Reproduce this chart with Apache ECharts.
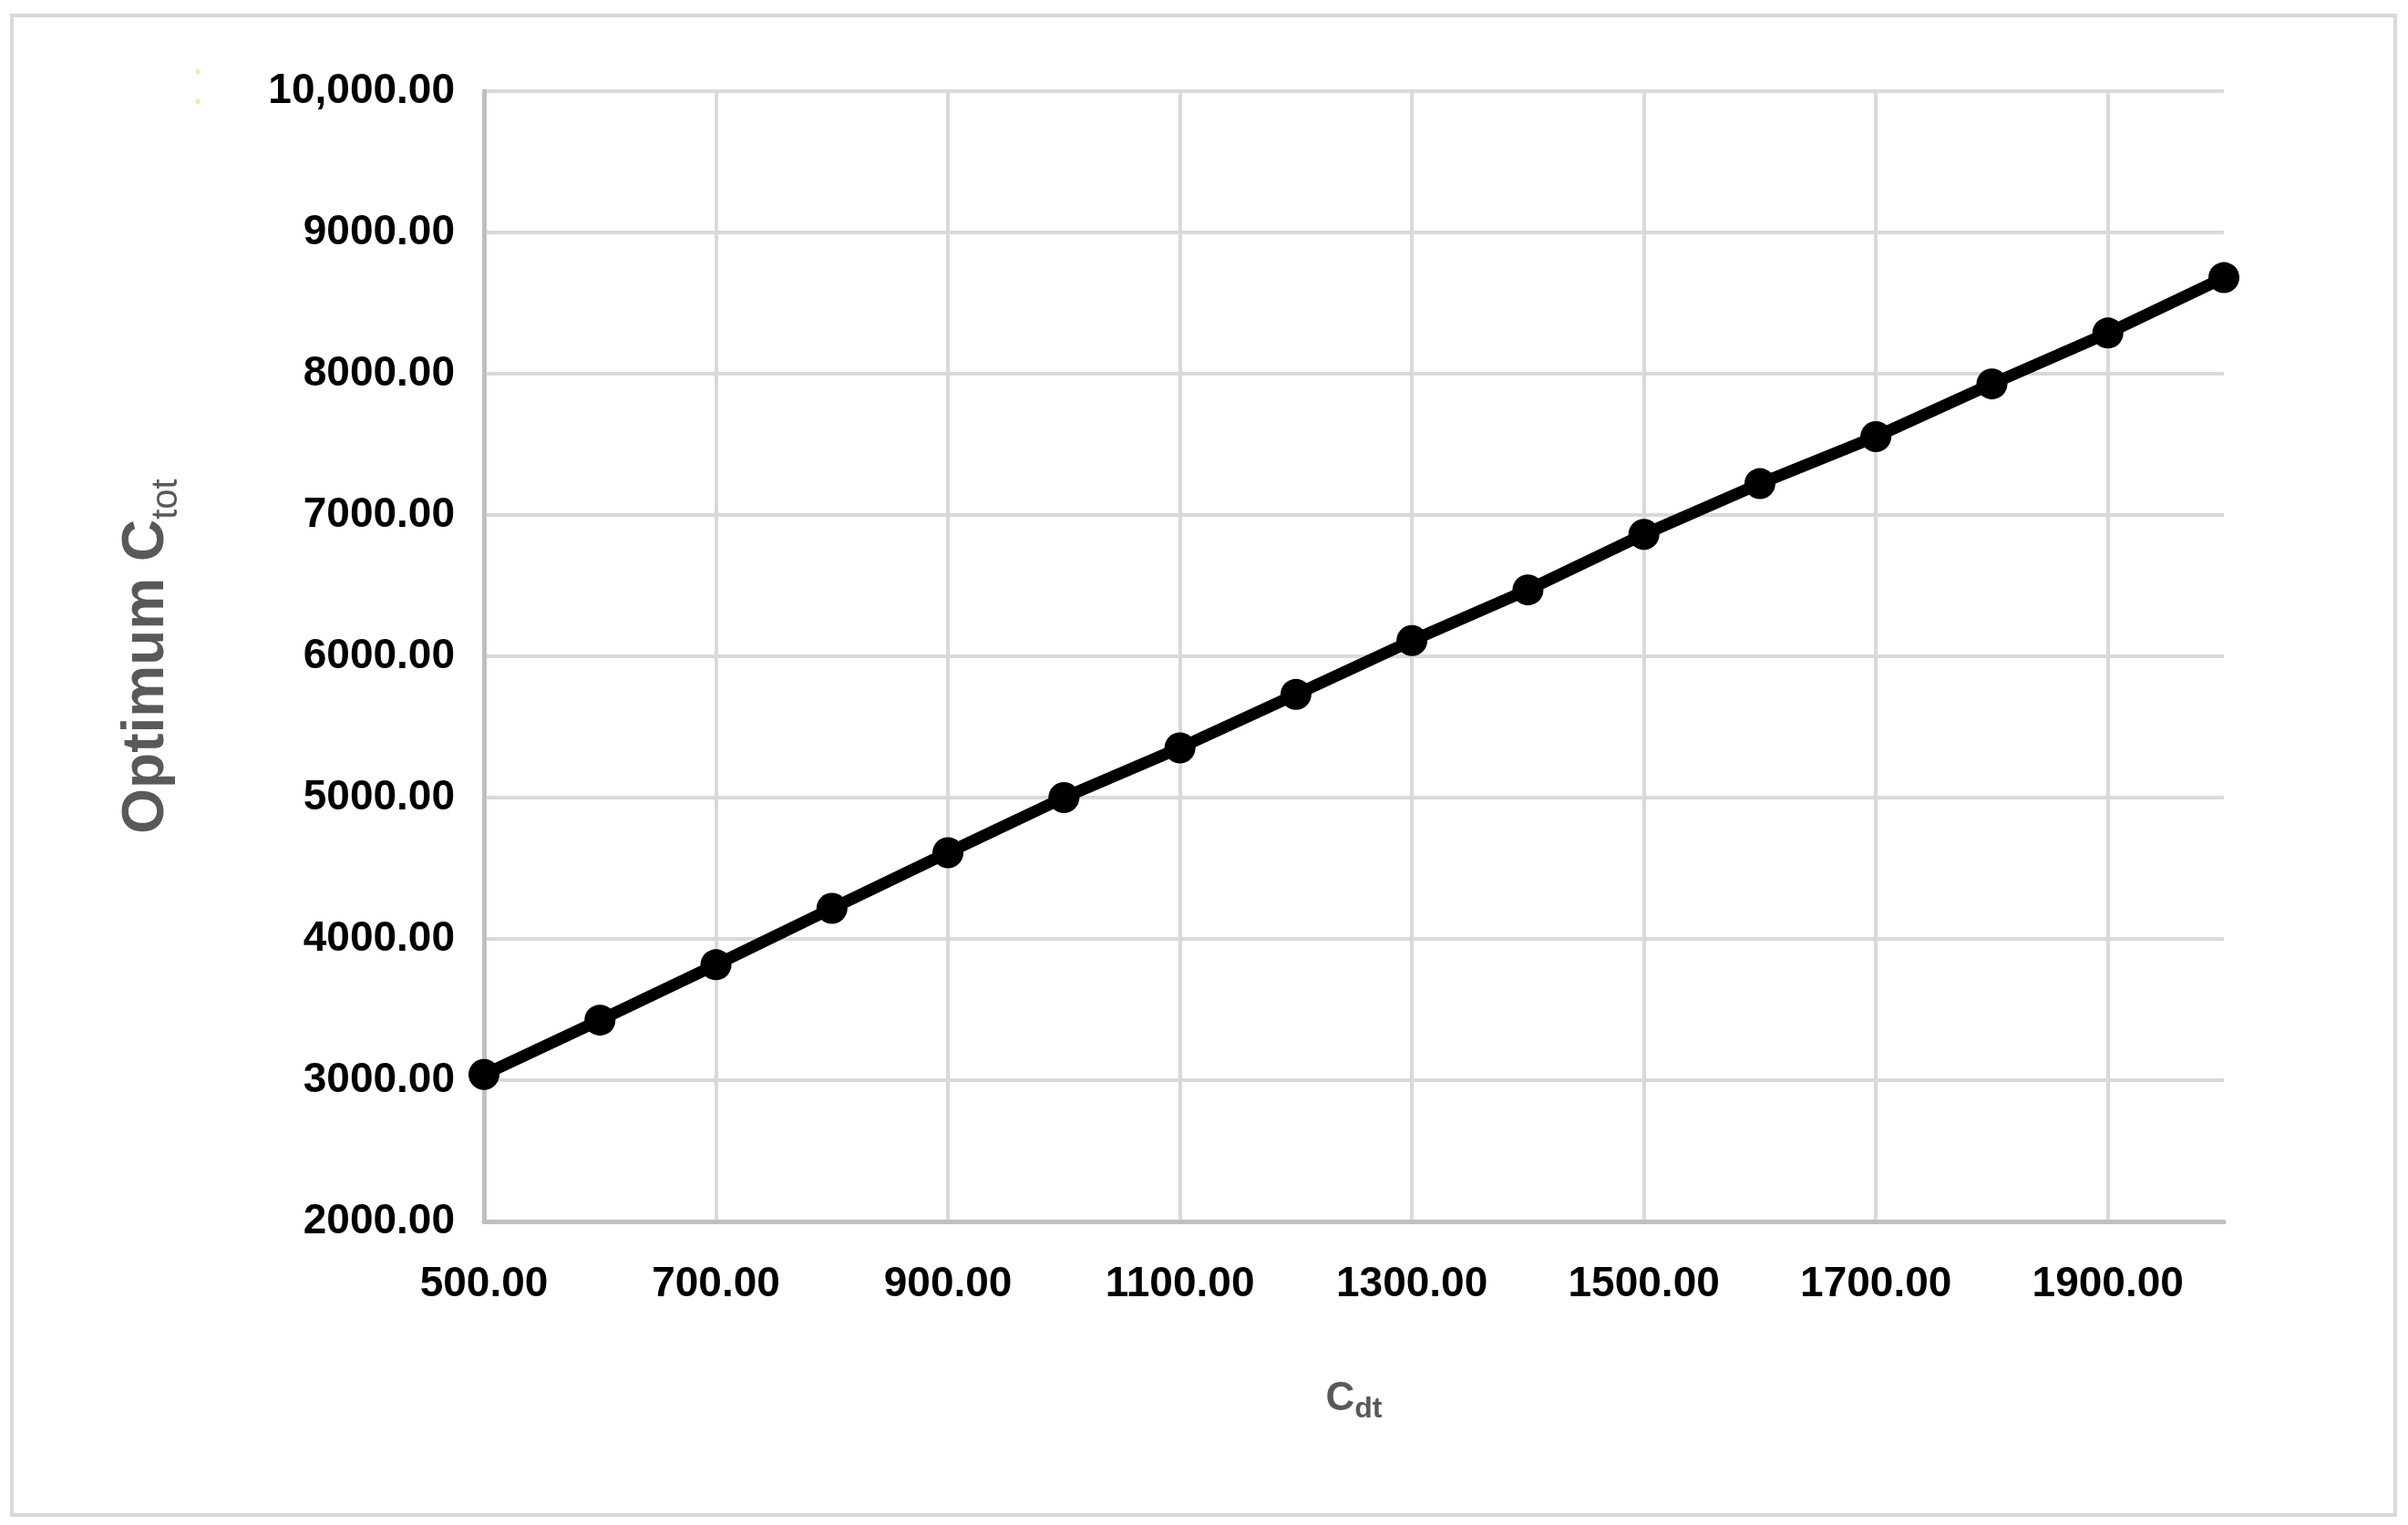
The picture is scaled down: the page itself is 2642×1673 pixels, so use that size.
<!DOCTYPE html>
<html>
<head>
<meta charset="utf-8">
<script src="https://cdn.jsdelivr.net/npm/echarts@6/dist/echarts.min.js"></script>
<style>
html,body{margin:0;padding:0;background:#ffffff;}
#chart{width:2642px;height:1673px;}
</style>
</head>
<body>
<div id="chart"></div>
<script>
// ---- data ----
const cdt = [500, 600, 700, 800, 900, 1000, 1100, 1200, 1300, 1400, 1500, 1600, 1700, 1800, 1900, 2000];
const optimumCtot = [3040, 3425, 3817, 4216, 4610, 5000, 5352, 5730, 6111, 6470, 6863, 7222, 7555, 7928, 8288, 8680];
const xTickValues = [500, 700, 900, 1100, 1300, 1500, 1700, 1900];
const xTickLabels = ['500.00', '700.00', '900.00', '1100.00', '1300.00', '1500.00', '1700.00', '1900.00'];
const yTickValues = [2000, 3000, 4000, 5000, 6000, 7000, 8000, 9000, 10000];
const yTickLabels = ['2000.00', '3000.00', '4000.00', '5000.00', '6000.00', '7000.00', '8000.00', '9000.00', '10,000.00'];

const FONT = 'Liberation Sans, Arial, sans-serif';
const chart = echarts.init(document.getElementById('chart'), null, {renderer: 'canvas'});

const seriesData = cdt.map((x, i) => [x, optimumCtot[i]]);

chart.setOption({
  animation: false,
  backgroundColor: '#ffffff',
  grid: {left: 531, right: 202, top: 100, bottom: 333},
  xAxis: {
    type: 'value', min: 500, max: 2000, interval: 200,
    name: '{c|C}{sub|dt}',
    nameLocation: 'middle',
    nameGap: 168,
    nameTextStyle: {
      rich: {
        c: {fontSize: 44, fontFamily: FONT, fontWeight: 'bold', color: '#595959'},
        sub: {fontSize: 32, fontFamily: FONT, fontWeight: 'bold', color: '#595959', padding: [22, 0, 0, 0]}
      }
    },
    axisLine: {show: true, onZero: false, lineStyle: {color: '#bfbfbf', width: 5}},
    axisTick: {show: false},
    splitLine: {show: true, showMaxLine: false, lineStyle: {color: '#d9d9d9', width: 4}},
    axisLabel: {
      showMaxLabel: false,
      margin: 46,
      fontSize: 46, fontWeight: 'bold', color: '#000000', fontFamily: FONT,
      formatter: function (v) { const i = xTickValues.indexOf(v); return i >= 0 ? xTickLabels[i] : ''; }
    }
  },
  yAxis: {
    type: 'value', min: 2000, max: 10000, interval: 1000,
    name: '{m|Optimum C}{sub|tot}',
    nameLocation: 'middle',
    nameGap: 328,
    nameTextStyle: {
      rich: {
        m: {fontSize: 64, fontFamily: FONT, fontWeight: 'bold', color: '#595959'},
        sub: {fontSize: 40, fontFamily: FONT, color: '#595959', padding: [44, 0, 0, 0]}
      }
    },
    axisLine: {show: true, onZero: false, lineStyle: {color: '#bfbfbf', width: 5}},
    axisTick: {show: false},
    splitLine: {show: true, lineStyle: {color: '#d9d9d9', width: 4}},
    axisLabel: {
      margin: 32,
      fontSize: 46, fontWeight: 'bold', color: '#000000', fontFamily: FONT,
      formatter: function (v) { const i = yTickValues.indexOf(v); return i >= 0 ? yTickLabels[i] : ''; }
    }
  },
  series: [{
    type: 'line',
    data: seriesData,
    symbol: 'circle',
    symbolSize: 34,
    showAllSymbol: true,
    lineStyle: {color: '#000000', width: 13},
    itemStyle: {color: '#000000'},
    z: 5
  }],
  graphic: [
    {type: 'rect', z: -1, silent: true, shape: {x: 13, y: 17, width: 2615, height: 1645},
     style: {fill: 'none', stroke: '#d9d9d9', lineWidth: 4}},
    {type: 'rect', silent: true, shape: {x: 215, y: 76, width: 4, height: 5}, style: {fill: '#ffe2aa'}},
    {type: 'rect', silent: true, shape: {x: 215, y: 109, width: 4, height: 5}, style: {fill: '#ffe2aa'}}
  ]
});
</script>
</body>
</html>
